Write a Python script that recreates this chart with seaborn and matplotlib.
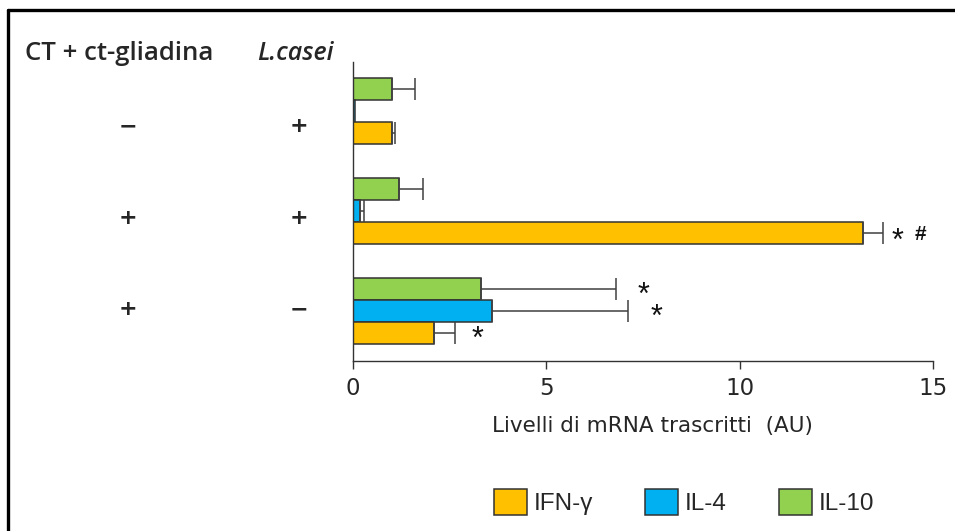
import numpy as np
import pandas as pd
import matplotlib
matplotlib.use("Agg")
import matplotlib.pyplot as plt
from matplotlib.patches import Patch
from matplotlib.lines import Line2D
import seaborn as sns

# Treatment groups (top to bottom) and their +/- flags
groups = ["-/+", "+/+", "+/-"]
ct_gliadina = ["\u2212", "+", "+"]
l_casei = ["+", "+", "\u2212"]

# Cytokines, in stacking order inside each group (top to bottom)
cytokines = ["IL-10", "IL-4", "IFN-\u03b3"]
legend_order = ["IFN-\u03b3", "IL-4", "IL-10"]

# mRNA levels (AU) and SEM per cytokine, one value per group
il10 = [1.0, 1.2, 3.3]
il10_err = [0.6, 0.6, 3.5]
il4 = [0.05, 0.18, 3.6]
il4_err = [0.0, 0.1, 3.5]
ifng = [1.0, 13.2, 2.1]
ifng_err = [0.08, 0.5, 0.55]

# Significance marks: (cytokine, group, text)
marks_cyt = ["IL-10", "IL-4", "IFN-\u03b3", "IFN-\u03b3", "IFN-\u03b3"]
marks_grp = ["+/-", "+/-", "+/-", "+/+", "+/+"]
marks_txt = ["*", "*", "*", "*", "#"]

xticks = [0, 5, 10, 15]
xlabel = "Livelli di mRNA trascritti  (AU)"

colors = {"IFN-\u03b3": "#FFC000", "IL-4": "#00B0F0", "IL-10": "#92D050"}

values = {"IL-10": il10, "IL-4": il4, "IFN-\u03b3": ifng}
errors = {"IL-10": il10_err, "IL-4": il4_err, "IFN-\u03b3": ifng_err}

df = pd.DataFrame(
    [(g, c, values[c][i], errors[c][i])
     for c in cytokines for i, g in enumerate(groups)],
    columns=["group", "cytokine", "level", "sem"],
)

sns.set_theme(style="white")
plt.rcParams["font.family"] = ["Liberation Sans", "DejaVu Sans"]

fig = plt.figure(figsize=(9.55, 5.31), dpi=100)
ax = fig.add_axes([353 / 955, 1 - 361 / 531, 580 / 955, 299 / 531])

sns.barplot(
    data=df, x="level", y="group", hue="cytokine",
    order=groups, hue_order=cytokines, palette=colors, saturation=1,
    orient="h", width=0.66, errorbar=None, ax=ax,
    edgecolor="#333333", linewidth=1.1, legend=False,
)

# One-sided error bars, placed on the drawn bars
bar_info = {}
for cyt, cont in zip(cytokines, ax.containers):
    for g, bar in zip(groups, cont):
        yc = bar.get_y() + bar.get_height() / 2
        xv = bar.get_width()
        bar_info[(cyt, g)] = (xv, yc)
        e = df[(df.group == g) & (df.cytokine == cyt)]["sem"].iloc[0]
        if e > 0:
            ax.errorbar(xv, yc, xerr=[[0], [e]], fmt="none",
                        ecolor="#404040", elinewidth=1.1,
                        capsize=8, capthick=1.1)

# Significance marks to the right of the error bars
mark_offsets = [19.5, 21, 16, 10.5, 27]
for cyt, g, txt, off in zip(marks_cyt, marks_grp, marks_txt, mark_offsets):
    xv, yc = bar_info[(cyt, g)]
    e = errors[cyt][groups.index(g)]
    if txt == "*":
        size = 22
        dy = -0.55 * size if g == "+/+" else -0.5 * size
        ax.annotate(txt, xy=(xv + e, yc), xytext=(off, dy),
                    textcoords="offset points", ha="center", va="baseline",
                    fontsize=size, color="#111111")
    else:
        size = 15
        ax.annotate(txt, xy=(xv + e, yc), xytext=(off, -0.36 * size),
                    textcoords="offset points", ha="center", va="baseline",
                    fontsize=size, fontweight="bold", color="#111111")

ax.set_xlim(0, 15)
ax.set_ylim(2.50, -0.49)
ax.set_xticks(xticks)
ax.set_xticklabels([str(t) for t in xticks], fontsize=16.5,
                   family=["DejaVu Sans"])
ax.set_yticks([])
ax.set_ylabel("")
ax.set_xlabel(xlabel, fontsize=15.5, family=["DejaVu Sans"])
ax.xaxis.set_label_coords(0.516, -0.183)
ax.xaxis.label.set_va("top")
ax.tick_params(axis="x", direction="out", length=6, width=1.0,
               color="#333333", pad=5.5, bottom=True)
for side in ["top", "right"]:
    ax.spines[side].set_visible(False)
for side in ["left", "bottom"]:
    ax.spines[side].set_color("#333333")
    ax.spines[side].set_linewidth(1.0)

# Column headers and +/- flags on the left
hdr_font = ["Open Sans", "DejaVu Sans"]
fig.text(25 / 955, 1 - 60 / 531, "CT + ct-gliadina", fontsize=18.5,
         fontweight="semibold", family=hdr_font, ha="left", va="baseline")
fig.text(257 / 955, 1 - 60 / 531, "L.casei", fontsize=18,
         fontweight="semibold", style="italic", family=hdr_font,
         ha="left", va="baseline")

flag_dy = [0.13, 0.05, -0.04]
trans = matplotlib.transforms.blended_transform_factory(fig.transFigure, ax.transData)
for i, g in enumerate(groups):
    y = i + flag_dy[i]
    for xpix, flag in ((128, ct_gliadina[i]), (299, l_casei[i])):
        fig.text(xpix / 955, y, flag, transform=trans, fontsize=16,
                 fontweight="bold", family=["DejaVu Sans"],
                 ha="center", va="center_baseline")

# Legend
handles = [Patch(facecolor=colors[c], edgecolor="#333333", linewidth=1.1)
           for c in legend_order]
fig.legend(handles, legend_order, loc="center left",
           bbox_to_anchor=(494 / 955, 1 - 502 / 531), ncol=3, frameon=False,
           prop={"family": "Liberation Sans", "size": 17.5},
           handlelength=1.36, handleheight=1.27,
           handletextpad=0.27, columnspacing=2.15, borderpad=0,
           borderaxespad=0)

# Frame lines along the top and left edges
fig.add_artist(Line2D([8 / 955, 1.0], [1 - 10 / 531, 1 - 10 / 531],
                      transform=fig.transFigure, color="black", linewidth=2.4))
fig.add_artist(Line2D([8 / 955, 8 / 955], [0.0, 1 - 10 / 531],
                      transform=fig.transFigure, color="black", linewidth=2.4))

fig.savefig("out.png", dpi=100)
